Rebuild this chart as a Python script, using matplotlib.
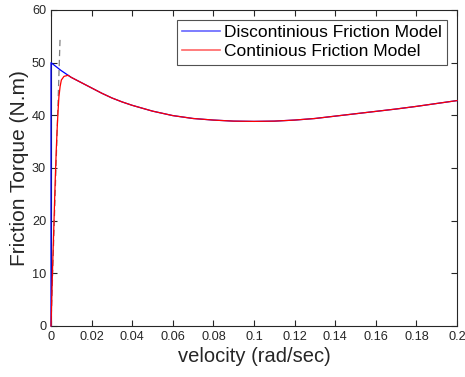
import matplotlib
matplotlib.use('Agg')
import matplotlib.pyplot as plt

plt.rcParams['font.family'] = ['Liberation Sans', 'DejaVu Sans']

# discontinuous model: vertical jump at v=0 then Stribeck curve
vel_disc = [0, 0, 0.005, 0.01, 0.015, 0.02, 0.025, 0.03, 0.035, 0.04, 0.05, 0.06,
            0.07, 0.08, 0.09, 0.10, 0.11, 0.12, 0.13, 0.14, 0.15, 0.16, 0.17,
            0.18, 0.19, 0.20]
torque_disc = [0, 50.0, 48.5, 47.2, 46.2, 45.2, 44.2, 43.3, 42.55, 41.9, 40.8, 39.95,
               39.4, 39.1, 38.9, 38.85, 38.9, 39.1, 39.4, 39.85, 40.3, 40.75, 41.2,
               41.7, 42.25, 42.8]

# continuous model: steep rise near zero, then same curve
vel_cont = [0, 0.0007, 0.0014, 0.0021, 0.0026, 0.003, 0.0035, 0.0039, 0.0045, 0.0051,
            0.0064, 0.0084, 0.01, 0.015, 0.02, 0.025, 0.03, 0.035, 0.04, 0.05, 0.06,
            0.07, 0.08, 0.09, 0.10, 0.11, 0.12, 0.13, 0.14, 0.15, 0.16, 0.17,
            0.18, 0.19, 0.20]
torque_cont = [0, 10, 19, 28, 33.5, 37.2, 41, 43.5, 45.5, 46.7,
               47.4, 47.6, 47.2, 46.2, 45.2, 44.2, 43.3, 42.55, 41.9, 40.8, 39.95,
               39.4, 39.1, 38.9, 38.85, 38.9, 39.1, 39.4, 39.85, 40.3, 40.75, 41.2,
               41.7, 42.25, 42.8]

# viscous slope line near zero
vel_slope = [0, 0.0045]
torque_slope = [0, 55]

xticks = [0, 0.02, 0.04, 0.06, 0.08, 0.1, 0.12, 0.14, 0.16, 0.18, 0.2]
xtick_labels = ['0', '0.02', '0.04', '0.06', '0.08', '0.1', '0.12', '0.14', '0.16', '0.18', '0.2']
yticks = [0, 10, 20, 30, 40, 50, 60]

axcol = (0.15, 0.15, 0.15)

fig = plt.figure(figsize=(4.65, 3.77), dpi=100)
ax = fig.add_axes([51/465, 51/377, 406/465, 316/377])

ax.plot(vel_slope, torque_slope, '--', color=(0.5, 0.5, 0.5), linewidth=0.9,
        dashes=(5, 3), zorder=3)
ax.plot(vel_disc, torque_disc, color='blue', linewidth=0.9,
        label='Discontinious Friction Model', zorder=3, clip_on=False)
ax.plot(vel_cont, torque_cont, color='red', linewidth=0.9,
        label='Continious Friction Model', zorder=3, clip_on=False)

ax.set_xlim(0, 0.2)
ax.set_ylim(0, 60)
ax.set_xticks(xticks)
ax.set_xticklabels(xtick_labels)
ax.set_yticks(yticks)
ax.tick_params(direction='in', length=4, width=0.8, top=True, right=True,
               labelsize=9.2, colors=axcol, pad=3.5)
for s in ax.spines.values():
    s.set_color(axcol)
    s.set_linewidth(0.8)

ax.set_xlabel('velocity (rad/sec)', fontsize=14.5, color=axcol, labelpad=3)
ax.set_ylabel('Friction Torque (N.m)', fontsize=15, color=axcol, labelpad=2)

leg = ax.legend(loc='upper right', fontsize=12.5, frameon=True, fancybox=False,
                edgecolor=axcol, handlelength=2.2, handletextpad=0.25,
                borderpad=0.3, labelspacing=0.25, borderaxespad=0.55)
leg.get_frame().set_linewidth(0.8)
for ln in leg.get_lines():
    ln.set_linewidth(1.2)
    ln.set_alpha(0.6)

fig.savefig('out.png', dpi=100)
